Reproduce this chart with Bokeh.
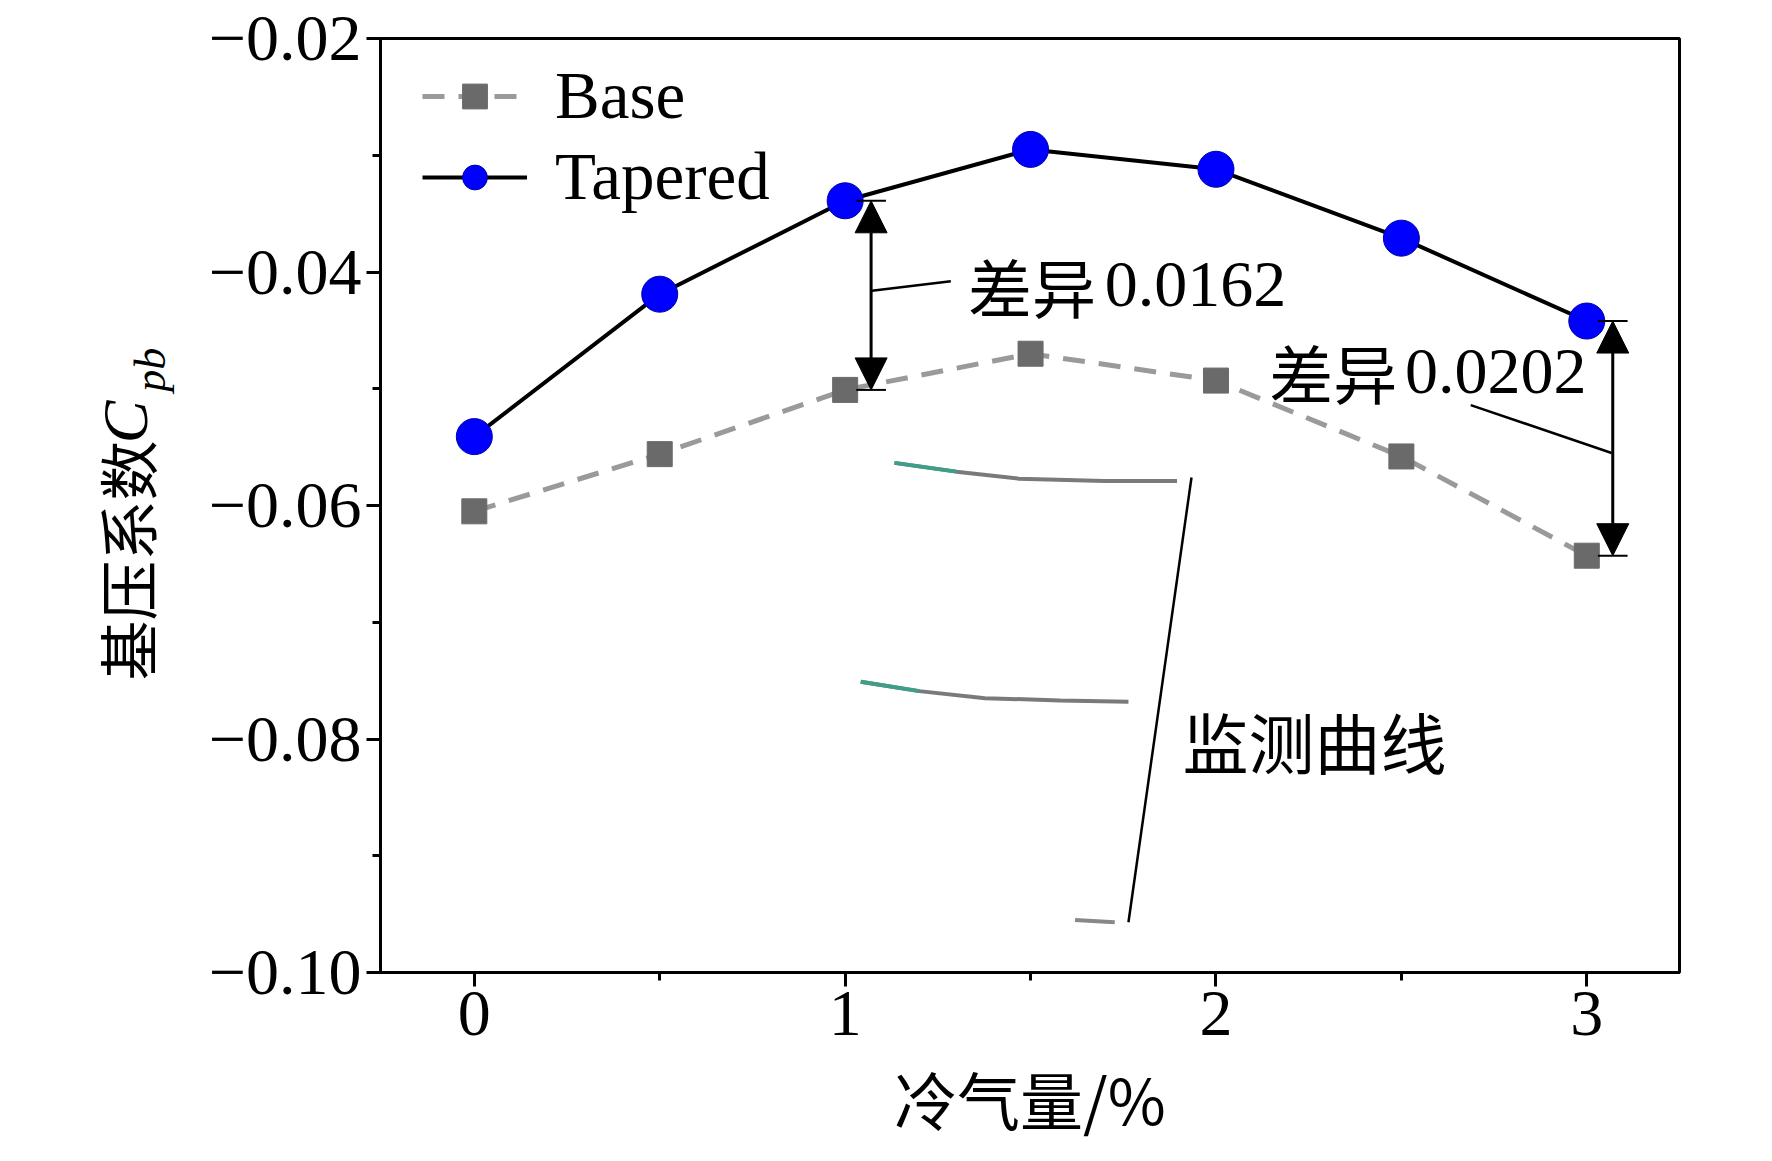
import math
from bokeh.plotting import figure
from bokeh.layouts import row
from bokeh.models import Range1d, Legend, LegendItem, Arrow, NormalHead, FixedTicker
from bokeh.core.properties import value
from bokeh.embed import file_html
from bokeh.resources import INLINE

x = [0, 0.5, 1, 1.5, 2, 2.5, 3]
base = [-0.0605, -0.0556, -0.0501, -0.0470, -0.0493, -0.0558, -0.0643]
tapered = [-0.0541, -0.0419, -0.0339, -0.0295, -0.0312, -0.0371, -0.0442]
yticks = [-0.10, -0.08, -0.06, -0.04, -0.02]
ytick_labels = {-0.10: "\u22120.10", -0.08: "\u22120.08", -0.06: "\u22120.06", -0.04: "\u22120.04", -0.02: "\u22120.02"}
diff1, diff2 = "0.0162", "0.0202"
mon_curve1_x = [1.133, 1.30, 1.468, 1.70, 1.895]
mon_curve1_y = [-0.05635, -0.0571, -0.0577, -0.0579, -0.0579]
mon_curve2_x = [1.042, 1.20, 1.377, 1.58, 1.764]
mon_curve2_y = [-0.0751, -0.0759, -0.0765, -0.0767, -0.0768]

SERIF = "Liberation Serif"
CJK = "Noto Sans CJK SC"
LW = 200  # width of the y-label strip

p = figure(width=1756 - LW, height=1145, output_backend="svg", toolbar_location=None,
           x_range=Range1d(-0.253, 3.25), y_range=Range1d(-0.10, -0.02),
           min_border_left=380 - LW, min_border_top=38, min_border_right=77, min_border_bottom=164)
p.grid.visible = False
p.outline_line_color = "black"
p.outline_line_width = 3
p.background_fill_color = "white"

for ax in (p.xaxis[0], p.yaxis[0]):
    ax.axis_line_width = 3
    ax.major_tick_line_width = 3
    ax.minor_tick_line_width = 3
    ax.major_tick_out = 14
    ax.major_tick_in = 0
    ax.minor_tick_out = 8
    ax.minor_tick_in = 0
    ax.major_label_text_font = SERIF
    ax.major_label_text_font_size = "66px"
    ax.major_label_text_color = "black"
p.xaxis.ticker = FixedTicker(ticks=[0, 1, 2, 3], minor_ticks=[0.5, 1.5, 2.5])
p.yaxis.ticker = FixedTicker(ticks=yticks, minor_ticks=[-0.09, -0.07, -0.05, -0.03])
p.yaxis.major_label_overrides = ytick_labels
p.xaxis.axis_label = "冷气量/%"
p.xaxis.axis_label_text_font = CJK
p.xaxis.axis_label_text_font_style = "normal"
p.xaxis.axis_label_text_color = "black"
p.xaxis.axis_label_text_font_size = "63px"
p.xaxis.axis_label_standoff = 14

# monitoring curves
p.line(mon_curve1_x, mon_curve1_y, line_color="#7a7a7a", line_width=4)
p.line(mon_curve1_x[:2], mon_curve1_y[:2], line_color="#3e9e88", line_width=4)
p.line(mon_curve2_x, mon_curve2_y, line_color="#7a7a7a", line_width=4)
p.line(mon_curve2_x[:2], mon_curve2_y[:2], line_color="#3e9e88", line_width=4)
p.line([1.62, 1.727], [-0.0955, -0.0957], line_color="#888888", line_width=4)
p.line([1.934, 1.764], [-0.0576, -0.0957], line_color="black", line_width=2.5)
p.text([1.91], [-0.0801], text=["监测曲线"], text_font=value(CJK), text_color="black",
       text_font_size="66px", text_baseline="middle")

bl = p.line(x, base, line_color="#9a9a9a", line_width=5, line_dash="22 14")
bs = p.scatter(x, base, marker="square", size=25, fill_color="#6a6a6a", line_color="#6a6a6a")
tl = p.line(x, tapered, line_color="black", line_width=4)
ts = p.scatter(x, tapered, marker="circle", size=36, fill_color="#0000ff", line_color="#0000aa")

leg = Legend(items=[LegendItem(label="Base", renderers=[bl, bs]),
                    LegendItem(label="Tapered", renderers=[tl, ts])],
             location=(38, 753), label_text_font=SERIF, label_text_font_size="67px",
             label_text_color="black",
             glyph_width=105, glyph_height=62, label_standoff=28, spacing=4,
             background_fill_alpha=0, border_line_alpha=0, margin=0, padding=4)
p.add_layout(leg)

# difference arrows
for xa, y0, y1 in [(1.07, tapered[2], base[2]), (3.07, tapered[6], base[6])]:
    p.add_layout(Arrow(start=NormalHead(size=32, fill_color="black", line_color="black"),
                       end=NormalHead(size=32, fill_color="black", line_color="black"),
                       x_start=xa, y_start=y0, x_end=xa, y_end=y1, line_width=3))
    p.segment([xa - 0.04, xa - 0.04], [y0, y1], [xa + 0.04, xa + 0.04], [y0, y1], line_color="black", line_width=2)

p.segment([1.072, 2.687], [-0.0416, -0.0514], [1.285, 3.067], [-0.0408, -0.0555], line_color="black", line_width=2.5)
p.text([1.331, 2.144], [-0.0411, -0.0485], text=["差异", "差异"], text_font=value(CJK), text_color="black",
       text_font_size="64px", text_baseline="middle")
p.text([1.70, 2.51], [-0.0411, -0.0485], text=[diff1, diff2], text_font=value(SERIF), text_color="black",
       text_font_size="66px", text_baseline="middle")

# y-axis label strip (pixel coordinates, y from bottom)
q = figure(width=LW, height=1145, output_backend="svg", toolbar_location=None,
           x_range=Range1d(0, LW), y_range=Range1d(0, 1145),
           min_border=0, min_border_left=0, min_border_right=0, min_border_top=0, min_border_bottom=0)
q.axis.visible = False
q.grid.visible = False
q.outline_line_color = None
q.text([125], [505], text=["基压系数"], angle=math.pi/2, text_font=value(CJK), text_font_size="60px",
       text_color="black", text_align="center", text_baseline="middle")
q.text([125], [675], text=["C"], angle=math.pi/2, text_font=value(SERIF), text_font_style="italic",
       text_font_size="64px", text_color="black", text_align="center", text_baseline="middle")
q.text([150], [739], text=["pb"], angle=math.pi/2, text_font=value(SERIF), text_font_style="italic",
       text_font_size="44px", text_color="black", text_align="center", text_baseline="middle")

layout = row(q, p)
open("out.html", "w").write(file_html(layout, INLINE))
